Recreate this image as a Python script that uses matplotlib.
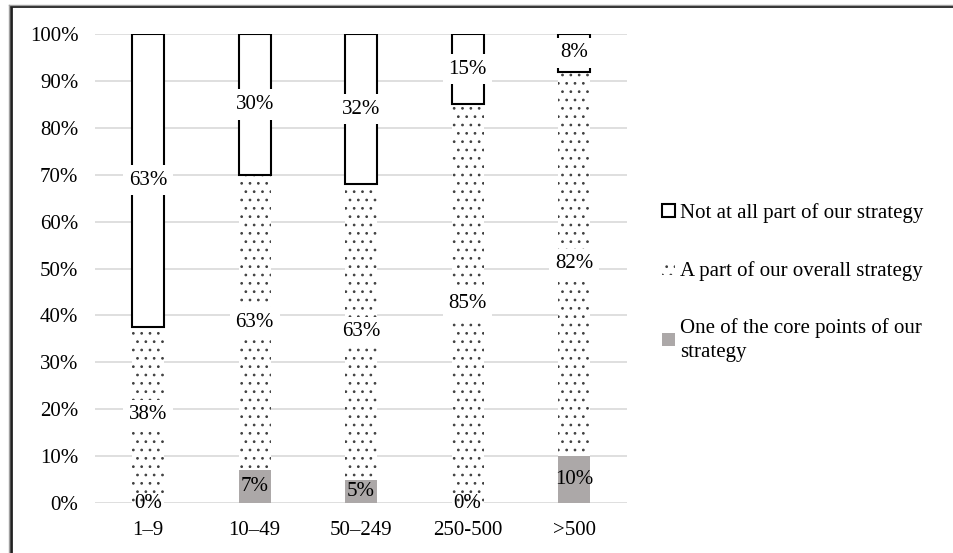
import matplotlib.pyplot as plt
import numpy as np
from matplotlib.lines import Line2D

plt.rcParams['font.family'] = ['Liberation Serif', 'DejaVu Serif']
plt.rcParams['hatch.color'] = '#404040'
plt.rcParams['hatch.linewidth'] = 0.75

categories = ['1\u20139', '10\u201349', '50\u2013249', '250-500', '>500']
core = [0, 7, 5, 0, 10]
part = [38, 63, 63, 85, 82]
not_part = [63, 30, 32, 15, 8]
legend_labels = ['Not at all part of our strategy',
                 'A part of our overall strategy',
                 'One of the core points of our\nstrategy']

# excel style 100% stacked: normalise by row totals
totals = np.array(core) + np.array(part) + np.array(not_part)
core_n = np.array(core) / totals * 100
part_n = np.array(part) / totals * 100
not_n = np.array(not_part) / totals * 100

fig = plt.figure(figsize=(9.54, 5.53), dpi=100)
ax = fig.add_axes([0.0996, 0.0904, 0.558, 0.848])

x = np.arange(len(categories))
w = 0.3

b1 = ax.bar(x, core_n, w, color='#aca8a8', linewidth=0, zorder=2)
b2 = ax.bar(x, part_n, w, bottom=core_n, color='white', edgecolor='#404040',
            linewidth=0, hatch='..', zorder=2)
b3 = ax.bar(x, not_n, w, bottom=core_n + part_n, color='white',
            edgecolor='black', linewidth=1.5, zorder=2)

fs = 15
for bars, vals, bottoms, heights in [(b1, core, np.zeros(5), core_n),
                                     (b2, part, core_n, part_n),
                                     (b3, not_part, core_n + part_n, not_n)]:
    for i, v in enumerate(vals):
        yc = bottoms[i] + heights[i] / 2
        if v == 0 or bars is b1:
            ax.text(x[i], yc, '%d%%' % v, ha='center', va='center',
                    fontsize=fs, zorder=4)
        else:
            ax.text(x[i], yc, '%d%%' % v, ha='center', va='center',
                    fontsize=fs, zorder=4,
                    bbox=dict(facecolor='white', edgecolor='none', pad=4))

ax.set_ylim(0, 100)
ax.set_xlim(-0.5, len(categories) - 0.5)
ax.set_yticks(np.arange(0, 101, 10))
ax.set_yticklabels(['%d%%' % t for t in range(0, 101, 10)])
ax.set_xticks(x)
ax.set_xticklabels(categories)
ax.tick_params(axis='both', length=0, labelsize=fs)
ax.tick_params(axis='x', pad=13)
ax.tick_params(axis='y', pad=12)
ax.grid(axis='y', color='#d9d9d9', linewidth=1.2, zorder=0)
ax.set_axisbelow(True)
for s in ax.spines.values():
    s.set_visible(False)

handles = [b3[0], b2[0], b1[0]]
leg = ax.legend(handles, legend_labels, loc='center left',
                bbox_to_anchor=(1.066, 0.47), frameon=False, fontsize=15,
                handlelength=0.6, handleheight=0.6, handletextpad=0.25,
                labelspacing=1.8, borderpad=0, borderaxespad=0)
for t in leg.get_texts():
    t.set_linespacing(1.35)

# outer frame (left and top only)
fig.add_artist(Line2D([0.0115, 0.0115], [0, 0.989], color='#202020', lw=2))
fig.add_artist(Line2D([0.0115, 1], [0.989, 0.989], color='#202020', lw=2))
fig.add_artist(Line2D([0.0095, 0.0095], [0, 0.991], color='#a0a0a0', lw=1))
fig.add_artist(Line2D([0.0095, 1], [0.991, 0.991], color='#a0a0a0', lw=1))

fig.savefig('out.png', dpi=100)
